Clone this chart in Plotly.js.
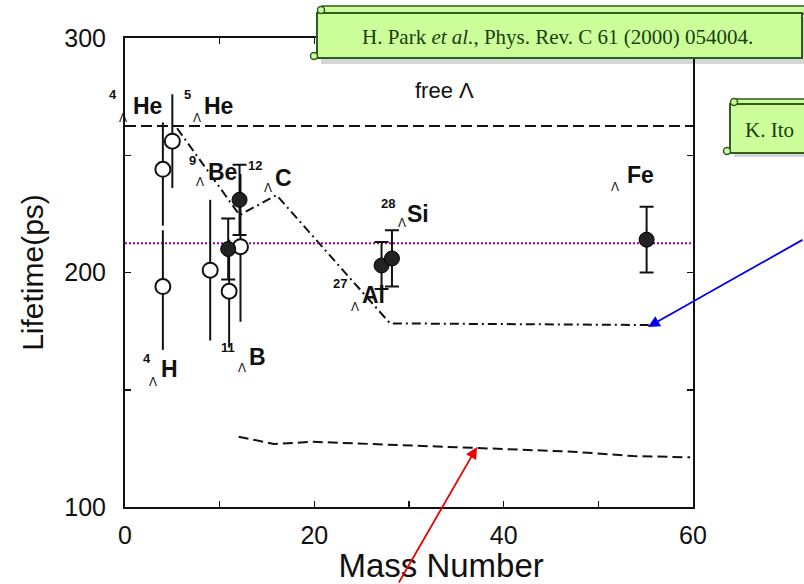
<!DOCTYPE html>
<html>
<head>
<meta charset="utf-8">
<script src="https://cdn.plot.ly/plotly-3.0.1.min.js"></script>
<style>
  html, body { margin: 0; padding: 0; background: #ffffff; }
  #chart { width: 804px; height: 584px; }
</style>
</head>
<body>
<div id="chart"></div>
<script>
// ---- data ----
// older measurements (open circles)
const oldA        = [4, 4, 5, 9, 11, 12.2];
const oldTau      = [194, 244, 256, 201, 192, 211];
const oldErrPlus  = [24, 20, 20, 30, 22, 31];
const oldErrMinus = [27, 24, 20, 30, 24, 32];

// H. Park et al. measurements (filled circles)
const parkA        = [10.9, 12.1, 27.1, 28.2, 55.1];
const parkTau      = [210, 231, 203, 206, 214];
const parkErrPlus  = [13, 15, 10, 12, 14];
const parkErrMinus = [13, 15, 10, 12, 14];

// free Lambda lifetime
const freeA   = [0, 60];
const freeTau = [262.5, 262.5];

// dash-dot calculation
const calcA   = [5.5, 12.1, 16, 28, 55.8];
const calcTau = [261.5, 224.5, 233, 178.3, 177.6];

// lower dashed calculation
const lowA   = [12, 15.7, 19.9, 29, 34.3, 37.1, 47.3, 53.7, 59.7];
const lowTau = [130, 126.9, 127.8, 126.4, 125.7, 125, 123.6, 121.7, 121.2];

// purple dotted reference line
const refA   = [0, 60];
const refTau = [212.5, 212.5];

// nucleus labels
const labelSym  = ['He', 'He', 'Be', 'C', 'Si', 'Al', 'H', 'B', 'Fe'];
const labelMass = ['4', '5', '9', '12', '28', '27', '4', '11', ''];

const xTickVals = [0, 20, 40, 60];
const yTickVals = [100, 200, 300];

// ---- layout helpers (pixel -> paper) ----
const L = 125, R = 693, T = 38, B = 507;
const px = p => (p - L) / (R - L);
const py = p => (B - p) / (B - T);

// label placements (pixel centres): symbol, mass number, Lambda
const symPos  = [[147,106],[218,106],[222,172],[283,178],[418,214],[373,295],[169,369],[257,357],[640,175]];
const massPos = [[113,95],[187,95],[192,160],[255,165],[388,203],[340,283],[147,358],[228,347],null];
const lamPos  = [[123,118],[197,118],[200,182],[268,188],[402,223],[355,307],[153,382],[242,368],[615,187]];

const ink = '#111111';

const traces = [
  { x: freeA, y: freeTau, mode: 'lines', line: { color: ink, width: 2, dash: '11px,5px' } },
  { x: calcA, y: calcTau, mode: 'lines', line: { color: ink, width: 2, dash: '9px,4px,2px,4px' } },
  { x: lowA, y: lowTau, mode: 'lines', line: { color: ink, width: 2, dash: '10px,5px' } },
  { x: refA, y: refTau, mode: 'lines', line: { color: '#990099', width: 2, dash: '2px,2px' } },
  {
    x: oldA, y: oldTau, mode: 'markers',
    marker: { symbol: 'circle', size: 15, color: '#ffffff', line: { color: ink, width: 2 } },
    error_y: { type: 'data', symmetric: false, array: oldErrPlus, arrayminus: oldErrMinus,
               width: 0, thickness: 2, color: ink }
  },
  {
    x: parkA, y: parkTau, mode: 'markers',
    marker: { symbol: 'circle', size: 15, color: '#222222', line: { color: '#000', width: 1 } },
    error_y: { type: 'data', symmetric: false, array: parkErrPlus, arrayminus: parkErrMinus,
               width: 7, thickness: 2, color: ink }
  }
];

const annotations = [];
const bold = { family: 'Liberation Sans, Arial, sans-serif', color: ink };
labelSym.forEach((s, i) => {
  annotations.push({ xref: 'paper', yref: 'paper', x: px(symPos[i][0]), y: py(symPos[i][1]),
    text: '<b>' + s + '</b>', showarrow: false, xanchor: 'center', yanchor: 'middle',
    font: Object.assign({ size: 23 }, bold) });
  if (massPos[i] && labelMass[i]) {
    annotations.push({ xref: 'paper', yref: 'paper', x: px(massPos[i][0]), y: py(massPos[i][1]),
      text: '<b>' + labelMass[i] + '</b>', showarrow: false, xanchor: 'center', yanchor: 'middle',
      font: Object.assign({ size: 13 }, bold) });
  }
  annotations.push({ xref: 'paper', yref: 'paper', x: px(lamPos[i][0]), y: py(lamPos[i][1]),
    text: 'Λ', showarrow: false, xanchor: 'center', yanchor: 'middle',
    font: { family: 'Liberation Sans, Arial, sans-serif', size: 12, color: ink } });
});

annotations.push({ xref: 'paper', yref: 'paper', x: px(444), y: py(91), text: 'free Λ',
  showarrow: false, xanchor: 'center', yanchor: 'middle',
  font: { family: 'Liberation Sans, Arial, sans-serif', size: 22, color: ink } });

// callout texts
const green = '#ccff99', greenLine = '#2e5e1e', greenText = '#1a3d10';
annotations.push({ xref: 'paper', yref: 'paper', x: px(557), y: py(37),
  text: 'H. Park <i>et al.</i>, Phys. Rev. C 61 (2000) 054004.', showarrow: false,
  xanchor: 'center', yanchor: 'middle',
  font: { family: 'Liberation Serif, Times New Roman, serif', size: 21, color: greenText } });
annotations.push({ xref: 'paper', yref: 'paper', x: px(743), y: py(130),
  text: 'K. Ito', showarrow: false,
  xanchor: 'left', yanchor: 'middle',
  font: { family: 'Liberation Serif, Times New Roman, serif', size: 21, color: greenText } });

// arrows
annotations.push({ xref: 'paper', yref: 'paper', x: px(648), y: py(327), text: '',
  showarrow: true, ax: 157, ay: -88, arrowcolor: '#0000ee', arrowwidth: 1.8,
  arrowhead: 2, arrowsize: 1.3 });
annotations.push({ xref: 'paper', yref: 'paper', x: px(477), y: py(447), text: '',
  showarrow: true, ax: -79, ay: 141, arrowcolor: '#ee0000', arrowwidth: 1.8,
  arrowhead: 2, arrowsize: 1.3 });

function rect(x0, y0, x1, y1, fill, line, w) {
  return { type: 'rect', xref: 'paper', yref: 'paper', x0: px(x0), x1: px(x1), y0: py(y1), y1: py(y0),
    fillcolor: fill, line: { color: line || 'rgba(0,0,0,0)', width: w || 0 }, layer: 'above' };
}
function circ(cx, cy, r, fill, line) {
  return { type: 'circle', xref: 'paper', yref: 'paper', x0: px(cx - r), x1: px(cx + r), y0: py(cy + r), y1: py(cy - r),
    fillcolor: fill, line: { color: line, width: 1.5 }, layer: 'above' };
}

const shapes = [
  // Park scroll
  rect(321, 17, 808, 64, 'rgba(0,0,0,0.16)'),
  rect(322, 6, 808, 14, green, greenLine, 1.5),
  rect(317, 13, 802, 58, green, greenLine, 2),
  circ(321, 10, 3.5, green, greenLine),
  circ(314, 56, 3.5, green, greenLine),
  // Itonaga scroll
  rect(734, 108, 808, 157, 'rgba(0,0,0,0.16)'),
  rect(735, 99, 808, 105, green, greenLine, 1.5),
  rect(730, 104, 808, 153, green, greenLine, 2),
  circ(734, 102, 3.5, green, greenLine),
  circ(727, 151, 3.5, green, greenLine)
];

const axisFont = { family: 'Liberation Sans, Arial, sans-serif', size: 25, color: ink };

const layout = {
  width: 804, height: 584,
  margin: { l: L, r: 804 - R, t: T, b: 584 - B, pad: 0 },
  paper_bgcolor: '#ffffff', plot_bgcolor: '#ffffff',
  showlegend: false, hovermode: false,
  xaxis: {
    range: [0, 60], tickvals: xTickVals, ticktext: xTickVals.map(String),
    ticks: 'inside', ticklen: 6, tickwidth: 1.5, tickcolor: ink,
    minor: { dtick: 10, tick0: 0, ticks: 'inside', ticklen: 6, tickwidth: 1.5, tickcolor: ink },
    showline: true, linecolor: ink, linewidth: 2, mirror: 'ticks',
    showgrid: false, zeroline: false, tickfont: axisFont, ticklabelstandoff: 5,
    title: { text: '&nbsp;&nbsp;&nbsp;&nbsp;&nbsp;&nbsp;&nbsp;Mass Number',
             font: { family: 'Liberation Sans, Arial, sans-serif', size: 33, color: ink }, standoff: 10 }
  },
  yaxis: {
    range: [100, 300], tickvals: yTickVals, ticktext: yTickVals.map(String),
    ticks: 'inside', ticklen: 6, tickwidth: 1.5, tickcolor: ink,
    minor: { dtick: 50, tick0: 100, ticks: 'inside', ticklen: 6, tickwidth: 1.5, tickcolor: ink },
    showline: true, linecolor: ink, linewidth: 2, mirror: 'ticks',
    showgrid: false, zeroline: false, tickfont: axisFont, ticklabelstandoff: 12,
    title: { text: 'Lifetime(ps)', font: { family: 'Liberation Sans, Arial, sans-serif', size: 30, color: ink }, standoff: 12 }
  },
  annotations: annotations,
  shapes: shapes
};

Plotly.newPlot('chart', traces, layout, { staticPlot: true, displayModeBar: false });
</script>
</body>
</html>
